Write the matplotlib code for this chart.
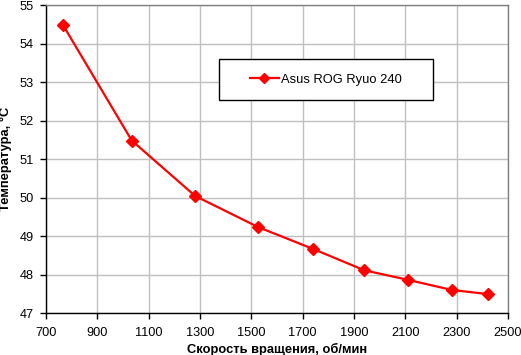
import matplotlib
matplotlib.use("Agg")
import matplotlib.pyplot as plt
from matplotlib.patches import Rectangle

rpm = [767, 1034, 1281, 1527, 1742, 1940, 2111, 2280, 2423]
temp = [54.47, 51.48, 50.04, 49.23, 48.66, 48.11, 47.86, 47.60, 47.49]
series_name = "Asus ROG Ryuo 240"
xticks = list(range(700, 2501, 200))
yticks = list(range(47, 56))

plt.rcParams['font.family'] = ['Liberation Sans', 'DejaVu Sans']

W, H = 521, 355
fig = plt.figure(figsize=(W/100, H/100), dpi=100)
L, R, T, B = 46, 508, 5, 313
ax = fig.add_axes([L/W, 1 - B/H, (R-L)/W, (B-T)/H])

ax.plot(rpm, temp, color='#ff0000', lw=1.6, marker='D', ms=6.5,
        mec='#ff0000', mfc='#ff0000', label=series_name, zorder=3)

ax.set_xlim(700, 2500)
ax.set_ylim(47, 55)
ax.set_xticks(xticks)
ax.set_yticks(yticks)
ax.grid(True, color='#c0c0c0', lw=1.0)
ax.set_axisbelow(True)
for s in ['top', 'right']:
    ax.spines[s].set_color('#808080')
for s in ['left', 'bottom']:
    ax.spines[s].set_color('black')
for s in ax.spines.values():
    s.set_linewidth(1.0)
ax.tick_params(direction='out', length=4, width=1, labelsize=9.2, colors='black')
ax.tick_params(axis='x', pad=6)
ax.tick_params(axis='y', pad=5)

ax.set_xlabel("Скорость вращения, об/мин", fontsize=9.3, fontweight='bold', labelpad=3)
ax.set_ylabel("Температура, °C", fontsize=9.3, fontweight='bold')
ax.yaxis.set_label_coords((12 - L) / (R - L), 0.5)

# legend box position in pixels
lx0, ly0, lx1, ly1 = 219, 59, 433, 100
frame = Rectangle((lx0/W, 1 - ly1/H), (lx1-lx0)/W, (ly1-ly0)/H,
                  transform=fig.transFigure, facecolor='white',
                  edgecolor='black', lw=1.0, zorder=4)
fig.add_artist(frame)
leg = fig.legend(loc='center', bbox_to_anchor=((lx0+lx1)/2/W, 1 - (ly0+ly1)/2/H),
                 bbox_transform=fig.transFigure, fontsize=9.3, frameon=False,
                 borderpad=0.2, handlelength=2.25, handletextpad=0.2,
                 borderaxespad=0)
leg.set_zorder(5)
for h in leg.legend_handles:
    h.set_markersize(5)

fig.savefig("out.png", dpi=100)
